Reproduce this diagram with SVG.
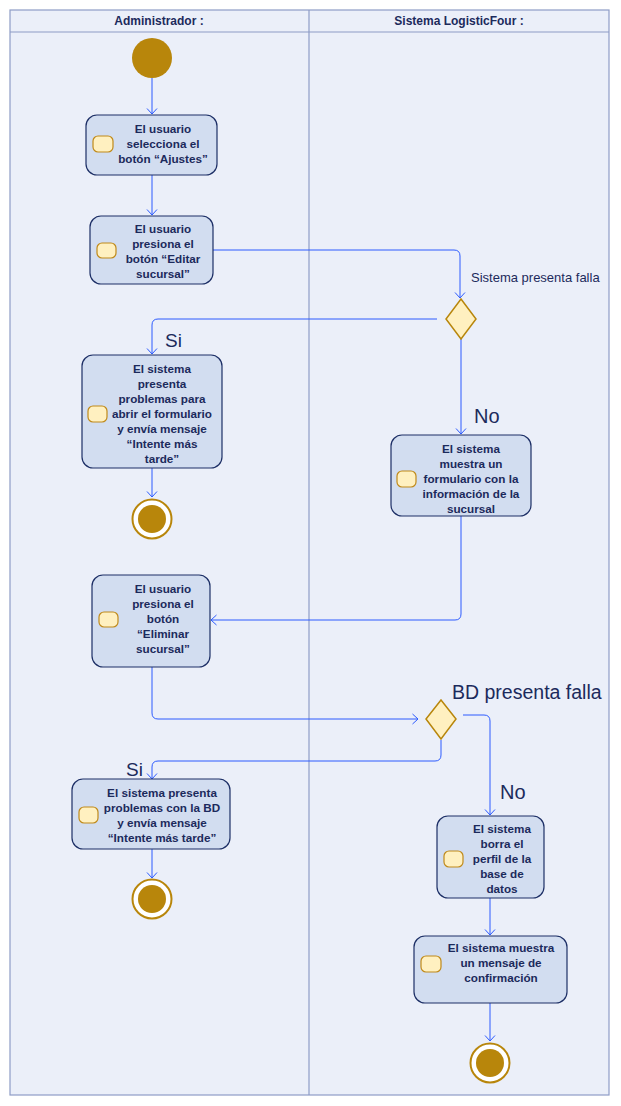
<svg xmlns="http://www.w3.org/2000/svg" width="621" height="1106" viewBox="0 0 621 1106">
<defs>
<marker id="arr" markerWidth="12" markerHeight="12" refX="7" refY="6" orient="auto" markerUnits="userSpaceOnUse">
<path d="M1.5,1 L7,6 L1.5,11" fill="none" stroke="#2d5bff" stroke-width="1"/>
</marker>
</defs>
<style>
.lane{fill:#ebeff9;stroke:#8e9cc6;stroke-width:1.2}
.hdr{font-family:"Liberation Sans",Arial,sans-serif;font-size:12px;font-weight:bold;fill:#1c2a5c;text-anchor:middle}
.node{fill:#d2ddf0;stroke:#1d2f66;stroke-width:1.2}
.icon{fill:#fff0c0;stroke:#c08a1a;stroke-width:1.2}
.t{font-family:"Liberation Sans",Arial,sans-serif;font-size:11.7px;font-weight:bold;fill:#1c2a5c;text-anchor:middle}
.lbl{font-family:"Liberation Sans",Arial,sans-serif;fill:#1c2a5c}
.dia{fill:#fff0c0;stroke:#b8860b;stroke-width:1.5}
.start{fill:#b8860b}
.endo{fill:#ffffff;stroke:#b8860b;stroke-width:2}
.endi{fill:#b8860b}
.c{fill:none;stroke:#2d5bff;stroke-width:1;marker-end:url(#arr)}
</style>
<rect x="0" y="0" width="621" height="1106" fill="#ffffff"/>
<g id="swimlanes">
<rect class="lane" x="10" y="10" width="599" height="1085"/>
<line x1="10" y1="32" x2="609" y2="32" stroke="#8e9cc6" stroke-width="1.2"/>
<line x1="309" y1="10" x2="309" y2="1095" stroke="#8e9cc6" stroke-width="1.2"/>
<text class="hdr" x="159" y="25">Administrador :</text>
<text class="hdr" x="459" y="25">Sistema LogisticFour :</text>
</g>
<g id="connectors">
<path class="c" d="M152,78 V114"/>
<path class="c" d="M152,175 V215"/>
<path class="c" d="M213,250 H454 Q460,250 460,256 V298"/>
<path class="c" d="M437,319 H158 Q152,319 152,325 V354"/>
<path class="c" d="M461,339 V434"/>
<path class="c" d="M152,468 V497"/>
<path class="c" d="M461,516 V614 Q461,620 455,620 H211"/>
<path class="c" d="M152,667 V713 Q152,719 158,719 H418"/>
<path class="c" d="M463,715 H484 Q490,715 490,721 V815"/>
<path class="c" d="M441,740 V755 Q441,761 435,761 H158 Q152,761 152,767 V779"/>
<path class="c" d="M152,849 V878"/>
<path class="c" d="M490,898 V935"/>
<path class="c" d="M490,1003 V1041"/>
<text class="lbl" x="471" y="282" font-size="13">Sistema presenta falla</text>
<text class="lbl" x="165" y="347" font-size="19">Si</text>
<text class="lbl" x="474" y="423" font-size="20">No</text>
<text class="lbl" x="452" y="699" font-size="19.5">BD presenta falla</text>
<text class="lbl" x="126" y="776" font-size="19">Si</text>
<text class="lbl" x="500" y="799" font-size="20">No</text>
</g>
<g id="start">
<circle class="start" cx="152" cy="58" r="20"/>
</g>
<g id="n1">
<rect class="node" x="86" y="115" width="131" height="60" rx="11"/>
<rect class="icon" x="93" y="136" width="20" height="16" rx="5"/>
<text class="t" x="163" y="133">El usuario</text>
<text class="t" x="163" y="148">selecciona el</text>
<text class="t" x="163" y="163">botón “Ajustes”</text>
</g>
<g id="n2">
<rect class="node" x="90" y="216" width="123" height="68" rx="11"/>
<rect class="icon" x="97" y="243" width="19" height="15" rx="5"/>
<text class="t" x="163" y="233">El usuario</text>
<text class="t" x="163" y="248">presiona el</text>
<text class="t" x="163" y="263">botón “Editar</text>
<text class="t" x="163" y="278">sucursal”</text>
</g>
<g id="d1">
<polygon class="dia" points="461,299 476,319 461,339 446,319"/>
</g>
<g id="n3">
<rect class="node" x="82" y="355" width="140" height="113" rx="11"/>
<rect class="icon" x="88" y="406" width="19" height="16" rx="5"/>
<text class="t" x="162" y="373">El sistema</text>
<text class="t" x="162" y="388">presenta</text>
<text class="t" x="162" y="403">problemas para</text>
<text class="t" x="162" y="418">abrir el formulario</text>
<text class="t" x="162" y="433">y envía mensaje</text>
<text class="t" x="162" y="448">“Intente más</text>
<text class="t" x="162" y="463">tarde”</text>
</g>
<g id="end1">
<circle class="endo" cx="152" cy="519" r="19.5"/>
<circle class="endi" cx="152" cy="519" r="14"/>
</g>
<g id="n4">
<rect class="node" x="391" y="435" width="140" height="81" rx="11"/>
<rect class="icon" x="397" y="471" width="19" height="16" rx="5"/>
<text class="t" x="471" y="452.5">El sistema</text>
<text class="t" x="471" y="467.5">muestra un</text>
<text class="t" x="471" y="482.5">formulario con la</text>
<text class="t" x="471" y="497.5">información de la</text>
<text class="t" x="471" y="512.5">sucursal</text>
</g>
<g id="n5">
<rect class="node" x="92" y="575" width="118" height="92" rx="11"/>
<rect class="icon" x="99" y="612" width="19" height="15" rx="5"/>
<text class="t" x="163" y="592.5">El usuario</text>
<text class="t" x="163" y="607.5">presiona el</text>
<text class="t" x="163" y="622.5">botón</text>
<text class="t" x="163" y="637.5">“Eliminar</text>
<text class="t" x="163" y="652.5">sucursal”</text>
</g>
<g id="d2">
<polygon class="dia" points="441,700 456,719 441,739 426,719"/>
</g>
<g id="n7">
<rect class="node" x="72" y="779" width="158" height="70" rx="11"/>
<rect class="icon" x="79" y="807" width="19" height="16" rx="5"/>
<text class="t" x="162" y="797">El sistema presenta</text>
<text class="t" x="162" y="812">problemas con la BD</text>
<text class="t" x="162" y="827">y envía mensaje</text>
<text class="t" x="162" y="842">“Intente más tarde”</text>
</g>
<g id="end2">
<circle class="endo" cx="152" cy="899" r="19.5"/>
<circle class="endi" cx="152" cy="899" r="14"/>
</g>
<g id="n6">
<rect class="node" x="437" y="816" width="107" height="82" rx="11"/>
<rect class="icon" x="444" y="851" width="19" height="16" rx="5"/>
<text class="t" x="502" y="833">El sistema</text>
<text class="t" x="502" y="848">borra el</text>
<text class="t" x="502" y="863">perfil de la</text>
<text class="t" x="502" y="878">base de</text>
<text class="t" x="502" y="893">datos</text>
</g>
<g id="n8">
<rect class="node" x="414" y="936" width="153" height="67" rx="11"/>
<rect class="icon" x="421" y="956" width="20" height="16" rx="5"/>
<text class="t" x="501" y="952">El sistema muestra</text>
<text class="t" x="501" y="967">un mensaje de</text>
<text class="t" x="501" y="982">confirmación</text>
</g>
<g id="end3">
<circle class="endo" cx="490" cy="1063" r="19.5"/>
<circle class="endi" cx="490" cy="1063" r="14"/>
</g>
</svg>
